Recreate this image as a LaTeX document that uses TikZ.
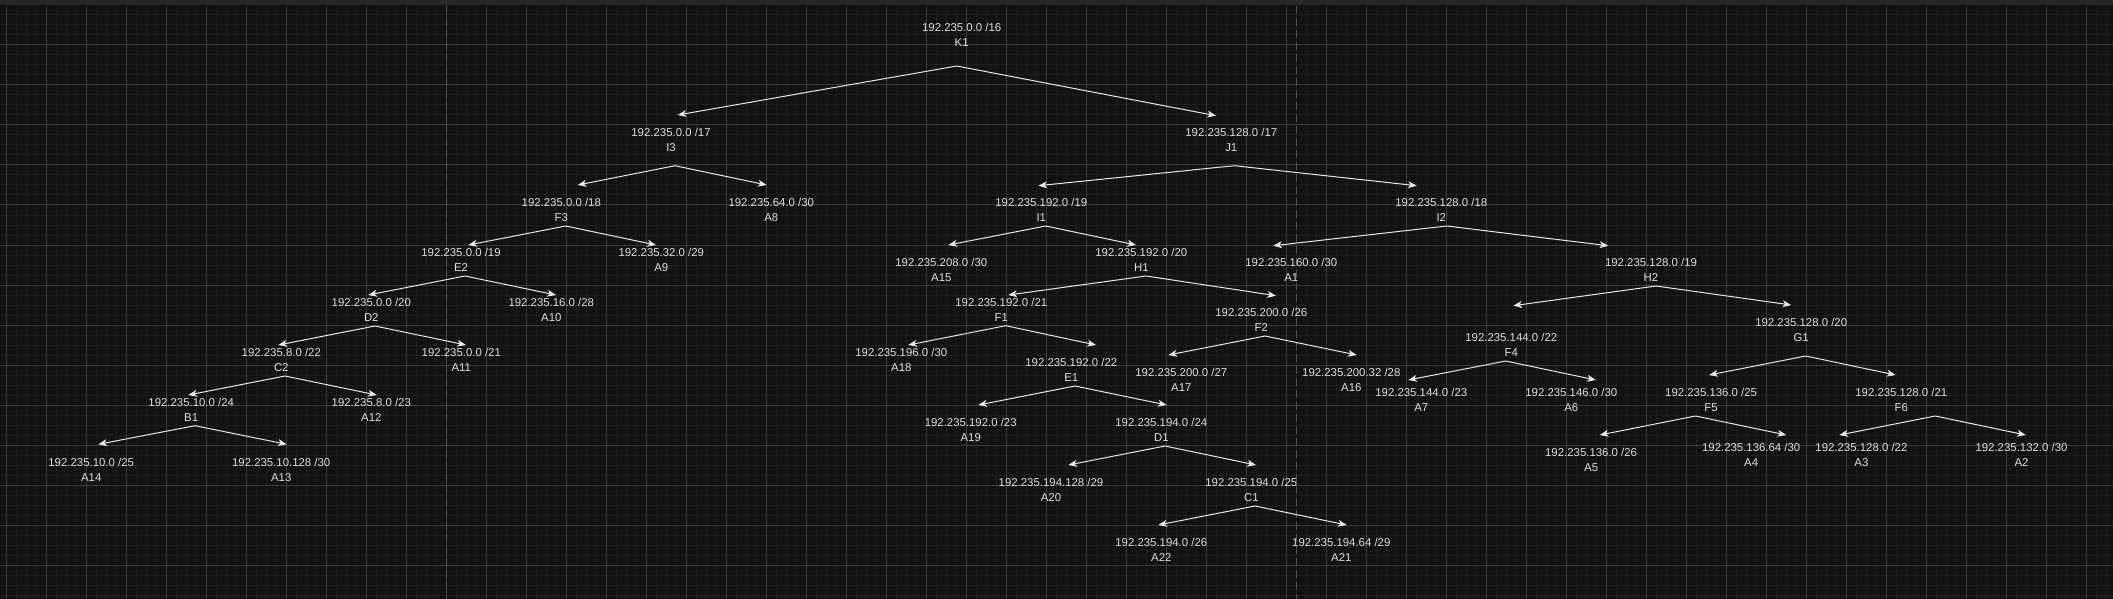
\documentclass[tikz,border=0pt]{standalone}
\usepackage{fontspec}
\setmainfont{Liberation Sans}
\usetikzlibrary{arrows.meta}

\begin{document}
\begin{tikzpicture}[x=0.75pt,y=0.75pt,yscale=-1,xscale=1,
  lbl/.style={text={rgb, 255:red, 222; green, 222; blue, 222 },align=center,inner sep=0pt,font=\fontsize{8.55}{11.25}\selectfont},
  arr/.style={draw={rgb, 255:red, 232; green, 232; blue, 232 },line width=0.75,-{Stealth[length=6.5pt,width=5.2pt,inset=1.8pt]}},
  gridminor/.style={draw={rgb, 255:red, 30; green, 30; blue, 30 },line width=0.75},
  gridmajor/.style={draw={rgb, 255:red, 60; green, 60; blue, 60 },line width=0.75},
  pagebreak/.style={draw={rgb, 255:red, 82; green, 82; blue, 82 },line width=0.75,dash pattern=on 6pt off 3pt}
]
\useasboundingbox (0,0) rectangle (2113,599);

%Canvas and grid
\fill[fill={rgb, 255:red, 18; green, 18; blue, 18 }] (0,0) rectangle (2113,599);
\fill[fill={rgb, 255:red, 40; green, 40; blue, 40 }] (0,0) rectangle (2113,5);
\foreach \x in {6.7,16.7,...,2110} \draw[gridminor] (\x,6) -- (\x,599);
\foreach \y in {15,25,...,595} \draw[gridminor] (0,\y) -- (2113,\y);
\foreach \x in {6.7,46.7,...,2110} \draw[gridmajor] (\x,6) -- (\x,599);
\foreach \y in {45,85,...,595} \draw[gridmajor] (0,\y) -- (2113,\y);
\draw[pagebreak] (446.7,6) -- (446.7,599);
\draw[pagebreak] (1296.7,6) -- (1296.7,599);

% Text Node: root
\node[lbl] (K1) at (961.7,35.2) {192.235.0.0 /16\\K1}; \coordinate (K1b) at (956.7,66);
% Text Node: /17 - /18
\node[lbl] (I3) at (671,140.2) {192.235.0.0 /17\\I3}; \coordinate (I3t) at (677.7,115); \coordinate (I3b) at (675,165.7);
\node[lbl] (J1) at (1231.3,140.2) {192.235.128.0 /17\\J1}; \coordinate (J1t) at (1216,115.7); \coordinate (J1b) at (1234.3,165.7);
\node[lbl] (F3) at (561.3,209.8) {192.235.0.0 /18\\F3}; \coordinate (F3t) at (577.7,185); \coordinate (F3b) at (565.7,226);
\node[lbl] (A8) at (771.3,209.8) {192.235.64.0 /30\\A8}; \coordinate (A8t) at (766.7,185);
\node[lbl] (I1) at (1041.3,210.2) {192.235.192.0 /19\\I1}; \coordinate (I1t) at (1038.3,185.7); \coordinate (I1b) at (1045.7,226);
\node[lbl] (I2) at (1441.3,210.2) {192.235.128.0 /18\\I2}; \coordinate (I2t) at (1416.7,185.7); \coordinate (I2b) at (1446.7,226);
% Text Node: left branch
\node[lbl] (E2) at (461,260.2) {192.235.0.0 /19\\E2}; \coordinate (E2t) at (468.3,245); \coordinate (E2b) at (465,276);
\node[lbl] (A9) at (661.3,260.2) {192.235.32.0 /29\\A9}; \coordinate (A9t) at (656,245);
\node[lbl] (D2) at (371.3,310.2) {192.235.0.0 /20\\D2}; \coordinate (D2t) at (368.3,295); \coordinate (D2b) at (375,326);
\node[lbl] (A10) at (551.3,310.2) {192.235.16.0 /28\\A10}; \coordinate (A10t) at (556,295);
\node[lbl] (C2) at (281.3,360.2) {192.235.8.0 /22\\C2}; \coordinate (C2t) at (278.3,345); \coordinate (C2b) at (285,376);
\node[lbl] (A11) at (461.3,360.2) {192.235.0.0 /21\\A11}; \coordinate (A11t) at (466,345);
\node[lbl] (B1) at (191.2,410.2) {192.235.10.0 /24\\B1}; \coordinate (B1t) at (188.3,395); \coordinate (B1b) at (195,425.7);
\node[lbl] (A12) at (371.3,410.2) {192.235.8.0 /23\\A12}; \coordinate (A12t) at (376.7,395);
\node[lbl] (A14) at (91.2,470.2) {192.235.10.0 /25\\A14}; \coordinate (A14t) at (98.3,444.3);
\node[lbl] (A13) at (281.2,470.2) {192.235.10.128 /30\\A13}; \coordinate (A13t) at (286.7,444.3);
% Text Node: middle branch
\node[lbl] (A15) at (941.3,270.2) {192.235.208.0 /30\\A15}; \coordinate (A15t) at (948.3,245);
\node[lbl] (H1) at (1141.3,260.2) {192.235.192.0 /20\\H1}; \coordinate (H1t) at (1136,245); \coordinate (H1b) at (1146,276);
\node[lbl] (F1) at (1001.3,310.2) {192.235.192.0 /21\\F1}; \coordinate (F1t) at (1008.3,295); \coordinate (F1b) at (1005.7,325.7);
\node[lbl] (F2) at (1261.3,320.2) {192.235.200.0 /26\\F2}; \coordinate (F2t) at (1276,295.7); \coordinate (F2b) at (1265,336);
\node[lbl] (A18) at (901.3,360.2) {192.235.196.0 /30\\A18}; \coordinate (A18t) at (908.3,345);
\node[lbl] (E1) at (1071.3,370.2) {192.235.192.0 /22\\E1}; \coordinate (E1t) at (1096,345); \coordinate (E1b) at (1075,386);
\node[lbl] (A17) at (1181.3,380.2) {192.235.200.0 /27\\A17}; \coordinate (A17t) at (1168.3,355);
\node[lbl] (A16) at (1351.3,380.2) {192.235.200.32 /28\\A16}; \coordinate (A16t) at (1356.7,355);
\node[lbl] (A19) at (970.7,430.2) {192.235.192.0 /23\\A19}; \coordinate (A19t) at (978.3,405);
\node[lbl] (D1) at (1161.3,430.2) {192.235.194.0 /24\\D1}; \coordinate (D1t) at (1166.7,405); \coordinate (D1b) at (1165,446);
\node[lbl] (A20) at (1051,490.2) {192.235.194.128 /29\\A20}; \coordinate (A20t) at (1068.3,465);
\node[lbl] (C1) at (1251.3,490.2) {192.235.194.0 /25\\C1}; \coordinate (C1t) at (1256,465); \coordinate (C1b) at (1255,506);
\node[lbl] (A22) at (1161.3,550.2) {192.235.194.0 /26\\A22}; \coordinate (A22t) at (1158.3,525);
\node[lbl] (A21) at (1341.3,550.2) {192.235.194.64 /29\\A21}; \coordinate (A21t) at (1346.7,525);
% Text Node: right branch
\node[lbl] (A1) at (1291.3,270.2) {192.235.160.0 /30\\A1}; \coordinate (A1t) at (1273.3,245.7);
\node[lbl] (H2) at (1651,270.2) {192.235.128.0 /19\\H2}; \coordinate (H2t) at (1608.3,245.7); \coordinate (H2b) at (1656,286);
\node[lbl] (F4) at (1511.3,345.2) {192.235.144.0 /22\\F4}; \coordinate (F4t) at (1513.3,305.7); \coordinate (F4b) at (1505.7,361);
\node[lbl] (G1) at (1801.2,330.2) {192.235.128.0 /20\\G1}; \coordinate (G1t) at (1791.2,305); \coordinate (G1b) at (1805.7,356);
\node[lbl] (A7) at (1421.3,400.2) {192.235.144.0 /23\\A7}; \coordinate (A7t) at (1408.3,380);
\node[lbl] (A6) at (1571.3,400.2) {192.235.146.0 /30\\A6}; \coordinate (A6t) at (1595.8,380);
\node[lbl] (F5) at (1711.1,400.2) {192.235.136.0 /25\\F5}; \coordinate (F5t) at (1709.1,375); \coordinate (F5b) at (1695.5,416);
\node[lbl] (F6) at (1901.3,400.2) {192.235.128.0 /21\\F6}; \coordinate (F6t) at (1895.6,375); \coordinate (F6b) at (1935.1,416);
\node[lbl] (A5) at (1591.1,460.2) {192.235.136.0 /26\\A5}; \coordinate (A5t) at (1599.7,435);
\node[lbl] (A4) at (1751.2,455.2) {192.235.136.64 /30\\A4}; \coordinate (A4t) at (1786.2,435);
\node[lbl] (A3) at (1861.4,455.2) {192.235.128.0 /22\\A3}; \coordinate (A3t) at (1839.3,435);
\node[lbl] (A2) at (2021.5,455.2) {192.235.132.0 /30\\A2}; \coordinate (A2t) at (2025.8,435);

%Straight Lines
\draw[arr] (K1b) -- (I3t); \draw[arr] (K1b) -- (J1t);
\draw[arr] (I3b) -- (F3t); \draw[arr] (I3b) -- (A8t);
\draw[arr] (J1b) -- (I1t); \draw[arr] (J1b) -- (I2t);
\draw[arr] (F3b) -- (E2t); \draw[arr] (F3b) -- (A9t);
\draw[arr] (I1b) -- (A15t); \draw[arr] (I1b) -- (H1t);
\draw[arr] (I2b) -- (A1t); \draw[arr] (I2b) -- (H2t);
\draw[arr] (E2b) -- (D2t); \draw[arr] (E2b) -- (A10t);
\draw[arr] (H1b) -- (F1t); \draw[arr] (H1b) -- (F2t);
\draw[arr] (H2b) -- (F4t); \draw[arr] (H2b) -- (G1t);
\draw[arr] (D2b) -- (C2t); \draw[arr] (D2b) -- (A11t);
\draw[arr] (F1b) -- (A18t); \draw[arr] (F1b) -- (E1t);
\draw[arr] (F2b) -- (A17t); \draw[arr] (F2b) -- (A16t);
\draw[arr] (F4b) -- (A7t); \draw[arr] (F4b) -- (A6t);
\draw[arr] (G1b) -- (F5t); \draw[arr] (G1b) -- (F6t);
\draw[arr] (C2b) -- (B1t); \draw[arr] (C2b) -- (A12t);
\draw[arr] (E1b) -- (A19t); \draw[arr] (E1b) -- (D1t);
\draw[arr] (F5b) -- (A5t); \draw[arr] (F5b) -- (A4t);
\draw[arr] (F6b) -- (A3t); \draw[arr] (F6b) -- (A2t);
\draw[arr] (B1b) -- (A14t); \draw[arr] (B1b) -- (A13t);
\draw[arr] (D1b) -- (A20t); \draw[arr] (D1b) -- (C1t);
\draw[arr] (C1b) -- (A22t); \draw[arr] (C1b) -- (A21t);
\end{tikzpicture}
\end{document}
